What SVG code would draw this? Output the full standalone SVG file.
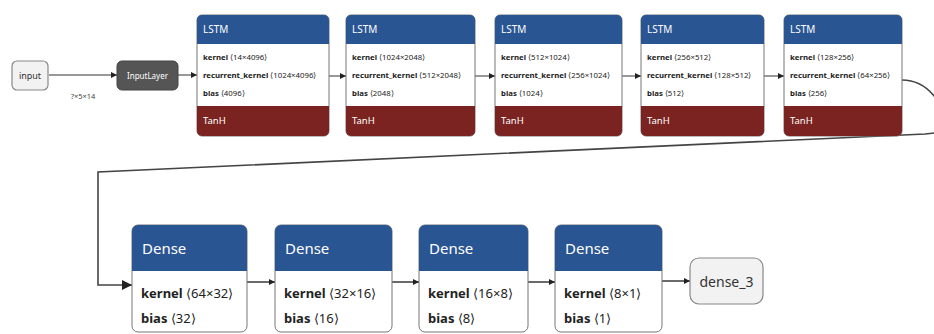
<svg xmlns="http://www.w3.org/2000/svg" width="934" height="334" viewBox="0 0 934 334">
<defs>
<marker id="ah" viewBox="0 0 10 10" refX="10" refY="5" markerWidth="6" markerHeight="6" orient="auto" markerUnits="userSpaceOnUse"><path d="M0,0 L10,5 L0,10 z" fill="#222"/></marker>
<marker id="ahb" viewBox="0 0 10 10" refX="10" refY="5" markerWidth="10" markerHeight="10" orient="auto" markerUnits="userSpaceOnUse"><path d="M0,0 L10,5 L0,10 z" fill="#222"/></marker>
</defs>
<style>
text{font-family:"Noto Sans","Liberation Sans",sans-serif;}
.edge{fill:none;stroke:#333;stroke-width:1;}
.edge2{fill:none;stroke:#444;stroke-width:1.6;}
.io{fill:#f2f2f2;stroke:#888;stroke-width:1.2;}
.il{fill:#555;stroke:#444;}
.hdr{fill:#2a5593;}
.ftr{fill:#7a2320;}
.body{fill:#fff;stroke:#777;stroke-width:1;}
.ht{fill:#fff;font-size:10px;}
.t8{font-size:7.8px;fill:#222;}
.t8 .b{font-weight:bold;}
.ft{fill:#fff;font-size:9.5px;}
.dh{fill:#fff;font-size:15px;}
.dt{font-size:13px;fill:#222;}
.dt .b{font-weight:bold;}
</style>
<g id="connectors">
<path class="edge" d="M49,75 L117,75" marker-end="url(#ah)"/>
<text x="83" y="99" text-anchor="middle" style="font-size:7.5px;fill:#444">?×5×14</text>
<path class="edge" d="M178,75 L197,75" marker-end="url(#ah)"/>
<path class="edge" d="M329,76 L346,76" marker-end="url(#ah)"/>
<path class="edge" d="M475,76 L495,76" marker-end="url(#ah)"/>
<path class="edge" d="M622,76 L641,76" marker-end="url(#ah)"/>
<path class="edge" d="M764,76 L784,76" marker-end="url(#ah)"/>
<path class="edge2" d="M902,80 C928,80 945,105 945,125 C945,132 938,133 925,134 C600,150 300,165 98,172 L98,285 L132,285" marker-end="url(#ahb)"/>
<path class="edge2" d="M247,282 L275,282" marker-end="url(#ah)"/>
<path class="edge2" d="M392,282 L419,282" marker-end="url(#ah)"/>
<path class="edge2" d="M528,282 L555,282" marker-end="url(#ah)"/>
<path class="edge2" d="M662,281 L690,281" marker-end="url(#ah)"/>
</g>
<g id="input">
<rect class="io" x="12" y="61" width="36" height="29" rx="5"/>
<text x="30" y="79" text-anchor="middle" style="font-size:9px;fill:#333">input</text>
</g>
<g id="inputlayer">
<rect class="il" x="117" y="61" width="61" height="29" rx="5"/>
<text x="147.5" y="79" text-anchor="middle" style="font-size:8px;fill:#fff">InputLayer</text>
</g>
<g id="lstm1">
<rect class="body" x="197" y="15" width="132" height="121" rx="5"/>
<path class="hdr" d="M197,44 V20 a5,5 0 0 1 5,-5 H324 a5,5 0 0 1 5,5 V44 z"/>
<path class="ftr" d="M197,106 V131 a5,5 0 0 0 5,5 H324 a5,5 0 0 0 5,-5 V106 z"/>
<text class="ht" x="203" y="33">LSTM</text>
<text class="t8" x="203" y="60"><tspan class="b">kernel</tspan> ⟨14×4096⟩</text>
<text class="t8" x="203" y="78"><tspan class="b">recurrent_kernel</tspan> ⟨1024×4096⟩</text>
<text class="t8" x="203" y="96"><tspan class="b">bias</tspan> ⟨4096⟩</text>
<text class="ft" x="203" y="124">TanH</text>
</g>
<g id="lstm2">
<rect class="body" x="346" y="15" width="129" height="121" rx="5"/>
<path class="hdr" d="M346,44 V20 a5,5 0 0 1 5,-5 H470 a5,5 0 0 1 5,5 V44 z"/>
<path class="ftr" d="M346,106 V131 a5,5 0 0 0 5,5 H470 a5,5 0 0 0 5,-5 V106 z"/>
<text class="ht" x="352" y="33">LSTM</text>
<text class="t8" x="352" y="60"><tspan class="b">kernel</tspan> ⟨1024×2048⟩</text>
<text class="t8" x="352" y="78"><tspan class="b">recurrent_kernel</tspan> ⟨512×2048⟩</text>
<text class="t8" x="352" y="96"><tspan class="b">bias</tspan> ⟨2048⟩</text>
<text class="ft" x="352" y="124">TanH</text>
</g>
<g id="lstm3">
<rect class="body" x="495" y="15" width="127" height="121" rx="5"/>
<path class="hdr" d="M495,44 V20 a5,5 0 0 1 5,-5 H617 a5,5 0 0 1 5,5 V44 z"/>
<path class="ftr" d="M495,106 V131 a5,5 0 0 0 5,5 H617 a5,5 0 0 0 5,-5 V106 z"/>
<text class="ht" x="501" y="33">LSTM</text>
<text class="t8" x="501" y="60"><tspan class="b">kernel</tspan> ⟨512×1024⟩</text>
<text class="t8" x="501" y="78"><tspan class="b">recurrent_kernel</tspan> ⟨256×1024⟩</text>
<text class="t8" x="501" y="96"><tspan class="b">bias</tspan> ⟨1024⟩</text>
<text class="ft" x="501" y="124">TanH</text>
</g>
<g id="lstm4">
<rect class="body" x="641" y="15" width="123" height="121" rx="5"/>
<path class="hdr" d="M641,44 V20 a5,5 0 0 1 5,-5 H759 a5,5 0 0 1 5,5 V44 z"/>
<path class="ftr" d="M641,106 V131 a5,5 0 0 0 5,5 H759 a5,5 0 0 0 5,-5 V106 z"/>
<text class="ht" x="647" y="33">LSTM</text>
<text class="t8" x="647" y="60"><tspan class="b">kernel</tspan> ⟨256×512⟩</text>
<text class="t8" x="647" y="78"><tspan class="b">recurrent_kernel</tspan> ⟨128×512⟩</text>
<text class="t8" x="647" y="96"><tspan class="b">bias</tspan> ⟨512⟩</text>
<text class="ft" x="647" y="124">TanH</text>
</g>
<g id="lstm5">
<rect class="body" x="784" y="15" width="118" height="121" rx="5"/>
<path class="hdr" d="M784,44 V20 a5,5 0 0 1 5,-5 H897 a5,5 0 0 1 5,5 V44 z"/>
<path class="ftr" d="M784,106 V131 a5,5 0 0 0 5,5 H897 a5,5 0 0 0 5,-5 V106 z"/>
<text class="ht" x="790" y="33">LSTM</text>
<text class="t8" x="790" y="60"><tspan class="b">kernel</tspan> ⟨128×256⟩</text>
<text class="t8" x="790" y="78"><tspan class="b">recurrent_kernel</tspan> ⟨64×256⟩</text>
<text class="t8" x="790" y="96"><tspan class="b">bias</tspan> ⟨256⟩</text>
<text class="ft" x="790" y="124">TanH</text>
</g>
<g id="dense">
<rect class="body" x="132" y="225" width="115" height="107" rx="6"/>
<path class="hdr" d="M132,271 V231 a6,6 0 0 1 6,-6 H241 a6,6 0 0 1 6,6 V271 z"/>
<text class="dh" x="142" y="254">Dense</text>
<text class="dt" x="141" y="298"><tspan class="b">kernel</tspan> ⟨64×32⟩</text>
<text class="dt" x="141" y="323"><tspan class="b">bias</tspan> ⟨32⟩</text>
</g>
<g id="dense_1">
<rect class="body" x="275" y="225" width="117" height="107" rx="6"/>
<path class="hdr" d="M275,271 V231 a6,6 0 0 1 6,-6 H386 a6,6 0 0 1 6,6 V271 z"/>
<text class="dh" x="285" y="254">Dense</text>
<text class="dt" x="284" y="298"><tspan class="b">kernel</tspan> ⟨32×16⟩</text>
<text class="dt" x="284" y="323"><tspan class="b">bias</tspan> ⟨16⟩</text>
</g>
<g id="dense_2">
<rect class="body" x="419" y="225" width="109" height="107" rx="6"/>
<path class="hdr" d="M419,271 V231 a6,6 0 0 1 6,-6 H522 a6,6 0 0 1 6,6 V271 z"/>
<text class="dh" x="429" y="254">Dense</text>
<text class="dt" x="428" y="298"><tspan class="b">kernel</tspan> ⟨16×8⟩</text>
<text class="dt" x="428" y="323"><tspan class="b">bias</tspan> ⟨8⟩</text>
</g>
<g id="dense_3_node">
<rect class="body" x="555" y="225" width="107" height="107" rx="6"/>
<path class="hdr" d="M555,271 V231 a6,6 0 0 1 6,-6 H656 a6,6 0 0 1 6,6 V271 z"/>
<text class="dh" x="565" y="254">Dense</text>
<text class="dt" x="564" y="298"><tspan class="b">kernel</tspan> ⟨8×1⟩</text>
<text class="dt" x="564" y="323"><tspan class="b">bias</tspan> ⟨1⟩</text>
</g>
<g id="output">
<rect class="io" x="690" y="258" width="73" height="46" rx="9"/>
<text x="726.5" y="287" text-anchor="middle" style="font-size:14px;fill:#333">dense_3</text>
</g>
</svg>
